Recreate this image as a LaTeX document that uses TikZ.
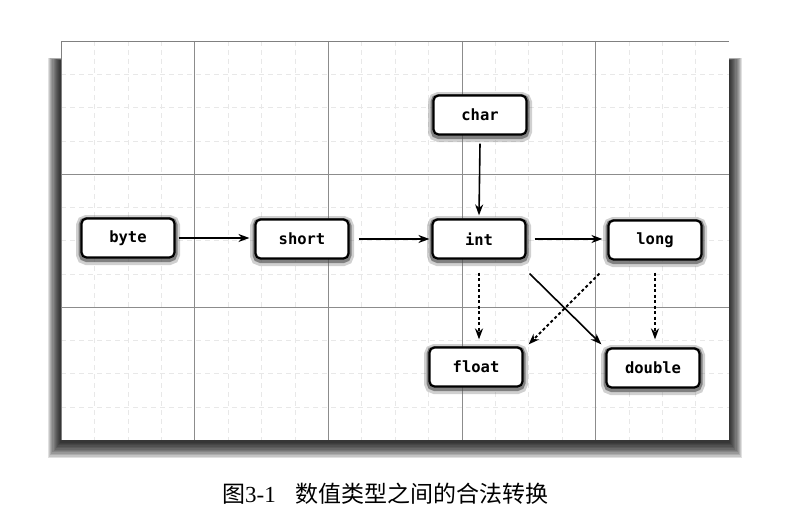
\documentclass[tikz,border=0pt]{standalone}
\usepackage{fontspec}
\setmainfont{Liberation Serif}
\newfontfamily\cjk{Noto Sans CJK SC}
\newfontfamily\monofnt{DejaVu Sans Mono}
\usetikzlibrary{arrows.meta}
\begin{document}
\begin{tikzpicture}[x=1pt,y=-1pt,
  typebox/.style={draw=black, line width=2.2pt, rounded corners=5pt, fill=white,
    minimum width=93pt, minimum height=39pt, inner sep=0pt,
    font=\monofnt\bfseries\fontsize{15.5}{15.5}\selectfont,
    preaction={draw=black!60, line width=11pt, opacity=0.3,
      transform canvas={yshift=-2pt}},
    preaction={draw=black!70, line width=6pt, opacity=0.6,
      transform canvas={yshift=-1.5pt}}},
  arr/.style={-{Stealth[length=11pt,width=8pt]}, line width=1.6pt},
  dotarr/.style={arr, line width=1.8pt, dash pattern=on 3pt off 2.5pt},
  majorgrid/.style={black!45, line width=0.6pt},
  minorgrid/.style={black!9, line width=0.4pt, dash pattern=on 5pt off 4pt}]
\useasboundingbox (0,0) rectangle (795,527);
% panel shadow
\foreach \i in {0,...,11}{
  \fill[black, opacity=0.12] (48+1.1*\i, 58+0.2*\i) rectangle (742-1.1*\i, 458-1.4*\i);
}
% panel
\fill[white] (61,41) rectangle (729,440);
\foreach \i in {1,...,19}{
  \draw[minorgrid] (61+33.4*\i,41) -- (61+33.4*\i,440);
}
\foreach \j in {1,...,11}{
  \draw[minorgrid] (61,41+33.25*\j) -- (729,41+33.25*\j);
}
\foreach \i in {1,...,4}{
  \draw[majorgrid] (61+133.6*\i,41) -- (61+133.6*\i,440);
}
\foreach \j in {1,2}{
  \draw[majorgrid] (61,41+133*\j) -- (729,41+133*\j);
}
\draw[black!50, line width=0.7pt] (61,440) -- (61,41) -- (729,41);
% nodes
\node[typebox] (byte)   at (128,238) {byte};
\node[typebox] (short)  at (302,239) {short};
\node[typebox] (char)   at (480,115) {char};
\node[typebox] (int)    at (479,239) {int};
\node[typebox] (long)   at (655,240) {long};
\node[typebox] (float)  at (476,367) {float};
\node[typebox] (double) at (653,368) {double};
% connectors
\draw[arr] ([xshift=3pt]byte.east) -- ([xshift=-5pt]short.west |- byte.east);
\draw[arr] ([xshift=9pt]short.east) -- ([xshift=-2pt]int.west);
\draw[arr] ([yshift=-8pt]char.south) -- ([yshift=3pt]int.north);
\draw[arr] ([xshift=8pt]int.east) -- ([xshift=-5pt]long.west |- int.east);
\draw[arr] ([shift={(3,14)}]int.south east) -- ([shift={(-4,-3)}]double.north west);
\draw[dotarr] ([yshift=-13pt]int.south) -- ([yshift=7pt]float.north -| int.south);
\draw[dotarr] ([yshift=-12pt]long.south) -- ([yshift=8pt]double.north -| long.south);
\draw[dotarr] ([shift={(-8,13)}]long.south west) -- ([shift={(5,-2)}]float.north east);
% caption
\node[anchor=west, inner sep=0pt, font=\fontsize{23}{23}\selectfont] (cap) at (222,494)
  {{\cjk 图}3-1\hspace{20pt}{\cjk 数值类型之间的合法转换}};
\end{tikzpicture}
\end{document}
